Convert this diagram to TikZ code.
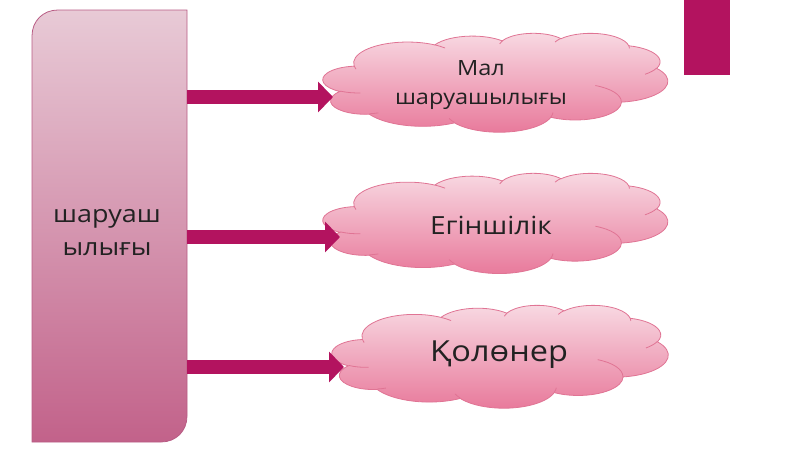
\documentclass[tikz,border=0pt]{standalone}
\usepackage{fontspec}
\setmainfont{Open Sans}[FakeStretch=1.12]
\usetikzlibrary{arrows.meta}
\definecolor{mag}{HTML}{B3135F}
\definecolor{boxtop}{HTML}{E8CAD6}
\definecolor{boxbot}{HTML}{C2628A}
\definecolor{boxline}{HTML}{B85C84}
\definecolor{cltop}{HTML}{F8DAE3}
\definecolor{clbot}{HTML}{E8789A}
\definecolor{clline}{HTML}{E07494}
\definecolor{txt}{HTML}{222222}
% convert an OOXML arcTo (visual angles) into parametric TikZ angles
\newcommand\ooconv[5]{%
  \pgfmathsetmacro\tmpS{atan2(#2*sin(#4), #3*cos(#4))}%
  \pgfmathsetmacro\tmpE{atan2(#2*sin(#4+#5), #3*cos(#4+#5))}%
  \pgfmathsetmacro\tmpD{mod(\tmpE-\tmpS+720,360)}%
  \expandafter\xdef\csname oo#1s\endcsname{\tmpS}%
  \expandafter\xdef\csname oo#1d\endcsname{\tmpD}}
\ooconv{a}{6753}{9190}{-190.48748}{123.78053}
\ooconv{b}{5333}{7267}{-144.10238}{89.94523}
\ooconv{c}{4365}{5945}{-145.80792}{99.72302}
\ooconv{d}{4857}{6595}{-130.98607}{117.24173}
\ooconv{e}{5333}{7273}{-78.70888}{109.02692}
\ooconv{f}{6775}{9220}{-46.26725}{130.28252}
\ooconv{g}{5785}{7867}{0.62502}{114.03333}
\ooconv{h}{6752}{9215}{22.4516}{115.17255}
\ooconv{i}{7720}{10543}{66.24263}{75.71102}
\ooconv{j}{4360}{5918}{-274.94208}{146.73557}
\ooconv{k}{4345}{5945}{-246.8285}{152.51885}
% inner lines
\ooconv{la}{4345}{5945}{86.742}{26.4295}
\ooconv{lb}{4360}{5918}{73.61047}{11.44747}
\ooconv{lc}{6752}{9215}{137.62415}{14.0811}
\ooconv{ld}{6752}{9215}{6.45327}{15.99835}
\ooconv{le}{5785}{7867}{-70.29235}{70.91737}
\ooconv{lf}{5333}{7273}{30.31803}{27.7515}
\ooconv{lg}{4857}{6595}{-13.74433}{14.8589}
\ooconv{lh}{4857}{6595}{-149.18145}{18.19537}
\ooconv{li}{4365}{5945}{-163.49427}{17.68635}
\ooconv{lj}{6753}{9190}{-66.70695}{12.31935}
\ooconv{lk}{6753}{9190}{157.65435}{11.85817}
\tikzset{
  cloudbody/.style={draw=clline, line width=0.8pt, top color=cltop, bottom color=clbot},
  cloudline/.style={draw=clline, line width=0.8pt},
  cloudtext/.style={text=txt, align=center},
  blockarrow/.style={line width=14pt, draw=mag,
    -{Triangle[length=15pt,width=30pt]}},
  ppcloud/.pic={
    \path[cloudbody] (3900,14370)
      arc[x radius=6753, y radius=9190, start angle=\ooas, delta angle=\ooad]
      arc[x radius=5333, y radius=7267, start angle=\oobs, delta angle=\oobd]
      arc[x radius=4365, y radius=5945, start angle=\oocs, delta angle=\oocd]
      arc[x radius=4857, y radius=6595, start angle=\oods, delta angle=\oodd]
      arc[x radius=5333, y radius=7273, start angle=\ooes, delta angle=\ooed]
      arc[x radius=6775, y radius=9220, start angle=\oofs, delta angle=\oofd]
      arc[x radius=5785, y radius=7867, start angle=\oogs, delta angle=\oogd]
      arc[x radius=6752, y radius=9215, start angle=\oohs, delta angle=\oohd]
      arc[x radius=7720, y radius=10543, start angle=\oois, delta angle=\ooid]
      arc[x radius=4360, y radius=5918, start angle=\oojs, delta angle=\oojd]
      arc[x radius=4345, y radius=5945, start angle=\ooks, delta angle=\ookd]
      -- cycle;
    \draw[cloudline] (4693,26177) arc[x radius=4345, y radius=5945, start angle=\oolas, delta angle=\oolad];
    \draw[cloudline] (6928,34899) arc[x radius=4360, y radius=5918, start angle=\oolbs, delta angle=\oolbd];
    \draw[cloudline] (16478,39090) arc[x radius=6752, y radius=9215, start angle=\oolcs, delta angle=\oolcd];
    \draw[cloudline] (28827,34751) arc[x radius=6752, y radius=9215, start angle=\oolds, delta angle=\ooldd];
    \draw[cloudline] (34129,22954) arc[x radius=5785, y radius=7867, start angle=\ooles, delta angle=\ooled];
    \draw[cloudline] (41798,15354) arc[x radius=5333, y radius=7273, start angle=\oolfs, delta angle=\oolfd];
    \draw[cloudline] (38324,5426) arc[x radius=4857, y radius=6595, start angle=\oolgs, delta angle=\oolgd];
    \draw[cloudline] (29078,3952) arc[x radius=4857, y radius=6595, start angle=\oolhs, delta angle=\oolhd];
    \draw[cloudline] (22141,4720) arc[x radius=4365, y radius=5945, start angle=\oolis, delta angle=\oolid];
    \draw[cloudline] (14000,5192) arc[x radius=6753, y radius=9190, start angle=\ooljs, delta angle=\ooljd];
    \draw[cloudline] (4127,15789) arc[x radius=6753, y radius=9190, start angle=\oolks, delta angle=\oolkd];
  },
}
\begin{document}
\begin{tikzpicture}[x=1pt,y=-1pt]
\useasboundingbox (0,0) rectangle (800,450);
\fill[mag] (684,0) rectangle (730,75);
% left box
\path[draw=boxline, line width=0.8pt, top color=boxtop, bottom color=boxbot]
  (32,442) -- (32,36) .. controls (32,21) and (43,10) .. (58,10)
  -- (187,10) -- (187,416) .. controls (187,431) and (176,442) .. (161,442) -- cycle;
\node[cloudtext, font=\fontsize{24}{33}\selectfont] (box) at (107,233) {шаруаш\\ылығы};
\coordinate (boxe) at (187,233);
% clouds
\begin{scope}[shift={(323,33)}, x=0.007986pt, y=-0.0022917pt]
  \pic {ppcloud};
\end{scope}
\begin{scope}[shift={(323,173)}, x=0.007986pt, y=-0.0023148pt]
  \pic {ppcloud};
\end{scope}
\begin{scope}[shift={(332,305)}, x=0.007778pt, y=-0.0023843pt]
  \pic {ppcloud};
\end{scope}
\node[cloudtext, font=\fontsize{21}{29}\selectfont] (c1) at (481,85) {Мал\\шаруашылығы};
\node[cloudtext, font=\fontsize{25}{30}\selectfont] (c2) at (491,225) {Егіншілік};
\node[cloudtext, font=\fontsize{29}{30}\selectfont] (c3) at (499,355) {Қолөнер};
% arrows
\coordinate (e1) at (333,97);
\coordinate (e2) at (340,237);
\coordinate (e3) at (344,367);
\draw[blockarrow] (boxe |- e1) -- (e1);
\draw[blockarrow] (boxe |- e2) -- (e2);
\draw[blockarrow] (boxe |- e3) -- (e3);
\end{tikzpicture}
\end{document}
